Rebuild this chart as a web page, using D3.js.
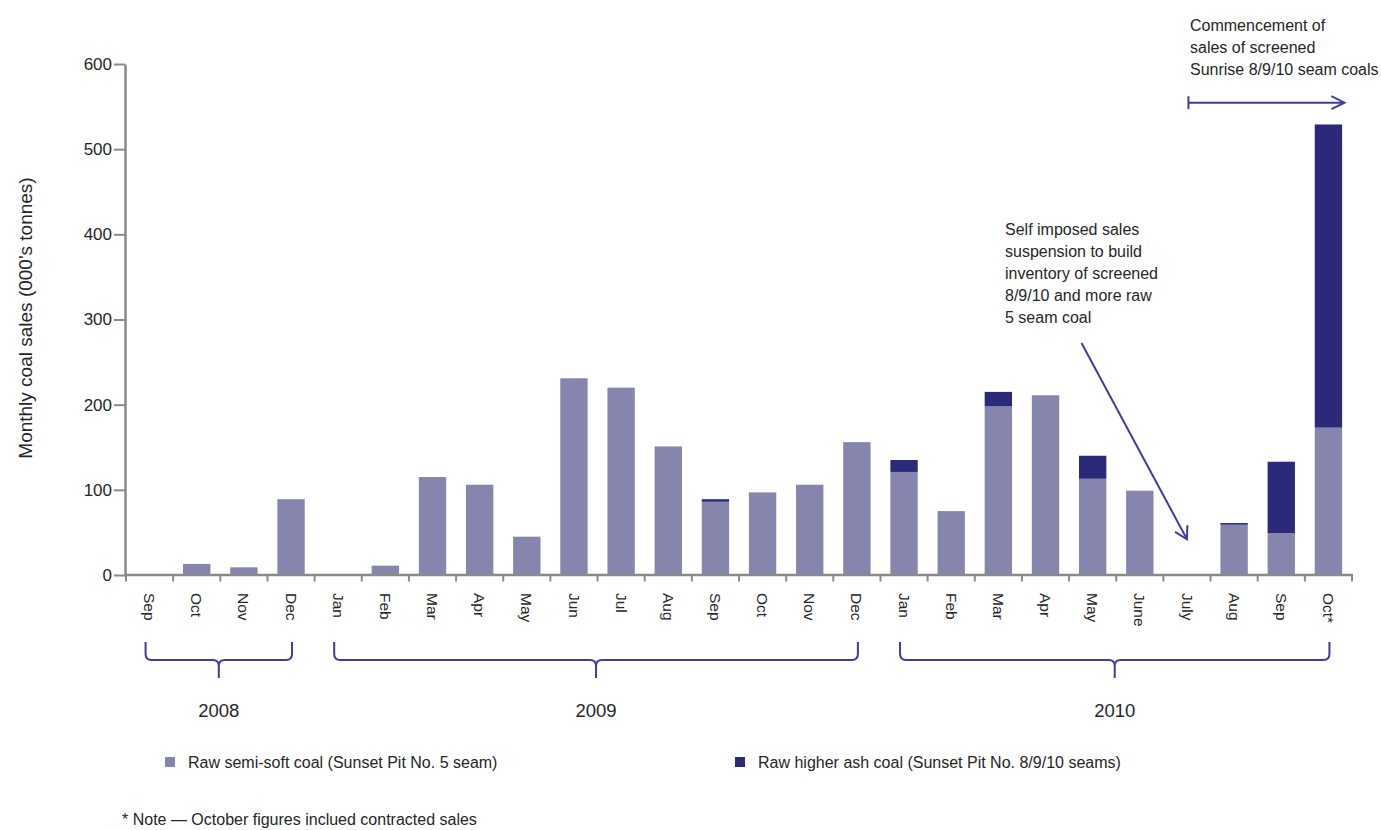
<!DOCTYPE html>
<html>
<head>
<meta charset="utf-8">
<script src="https://cdn.jsdelivr.net/npm/d3@7"></script>
<style>
  html, body { margin: 0; padding: 0; background: #ffffff; }
  svg { display: block; font-family: "Liberation Sans", Arial, Helvetica, sans-serif; }
</style>
</head>
<body>
<svg id="chart" width="1381" height="830"></svg>
<script>
// ---- data ----
const monthLabels = ["Sep","Oct","Nov","Dec","Jan","Feb","Mar","Apr","May","Jun","Jul","Aug","Sep","Oct","Nov","Dec","Jan","Feb","Mar","Apr","May","June","July","Aug","Sep","Oct*"];
const rawSemiSoft = [0,13,9,89,0,11,115,106,45,231,220,151,86,97,106,156,121,75,198,211,113,99,0,59,49,173];
const rawHigherAsh = [0,0,0,0,0,0,0,0,0,0,0,0,3,0,0,0,14,0,17,0,27,0,0,2,84,356];
const yTicks = [0,100,200,300,400,500,600];
const yearLabels = ["2008","2009","2010"];
const yearStart = [0,4,16];
const yearEnd = [3,15,25];
const seriesNames = ["Raw semi-soft coal (Sunset Pit No. 5 seam)", "Raw higher ash coal (Sunset Pit No. 8/9/10 seams)"];
const yTitle = "Monthly coal sales (000's tonnes)";
const noteText = "* Note \u2014 October figures inclued contracted sales";
const annoCommence = ["Commencement of","sales of screened","Sunrise 8/9/10 seam coals"];
const annoSuspend = ["Self imposed sales","suspension to build","inventory of screened","8/9/10 and more raw","5 seam coal"];

// ---- styles ----
const colRaw = "#8585ae", colAsh = "#2b2a7a", colAxis = "#8a8a8a", colText = "#262626", colAnno = "#3d3da2";

const svg = d3.select("#chart");
const idx = d3.range(monthLabels.length);
const x = d3.scaleBand().domain(idx).range([126, 1352]).paddingInner(0.42).paddingOuter(0.21);
const y = d3.scaleLinear().domain([0, 600]).range([575, 64]);
const cx = i => x(i) + x.bandwidth() / 2;
const gap = (x.step() - x.bandwidth()) / 2;

// stacked data
const stackData = idx.map(i => ({ i, raw: rawSemiSoft[i], ash: rawHigherAsh[i] }));
const stack = d3.stack().keys(["raw","ash"])(stackData);
const colors = { raw: colRaw, ash: colAsh };

svg.append("g").selectAll("g").data(stack).join("g")
  .attr("fill", d => colors[d.key])
  .selectAll("rect").data(d => d).join("rect")
  .attr("x", d => x(d.data.i))
  .attr("width", x.bandwidth())
  .attr("y", d => y(d[1]))
  .attr("height", d => Math.max(0, y(d[0]) - y(d[1])));

// y axis
const yAxis = svg.append("g").attr("transform", "translate(125,0)")
  .call(d3.axisLeft(y).tickValues(yTicks).tickSize(11).tickPadding(2).tickSizeOuter(0));
yAxis.select(".domain").attr("stroke", colAxis).attr("stroke-width", 2.5);
yAxis.selectAll(".tick line").attr("stroke", colAxis).attr("stroke-width", 2);
yAxis.selectAll(".tick text").attr("fill", colText).style("font-size", "17px");

// x axis baseline + boundary ticks
const xa = svg.append("g");
xa.append("line").attr("x1", 124).attr("x2", x(idx.length - 1) + x.bandwidth() + gap + 1)
  .attr("y1", y(0)).attr("y2", y(0)).attr("stroke", colAxis).attr("stroke-width", 2.5);
const bounds = idx.map(i => x(i) - gap).concat([x(idx.length - 1) + x.bandwidth() + gap]);
xa.selectAll("line.tk").data(bounds).join("line").attr("class", "tk")
  .attr("x1", d => d).attr("x2", d => d).attr("y1", y(0)).attr("y2", y(0) + 6.5)
  .attr("stroke", colAxis).attr("stroke-width", 2);
xa.selectAll("text").data(idx).join("text")
  .attr("transform", i => `translate(${cx(i)},593) rotate(90)`)
  .attr("dy", "0.35em").attr("text-anchor", "start")
  .attr("fill", colText).style("font-size", "15.5px")
  .text(i => monthLabels[i]);

// y title
svg.append("text").attr("transform", "translate(32,318) rotate(-90)")
  .attr("text-anchor", "middle").attr("fill", colText).style("font-size", "19px")
  .text(yTitle);

// year braces
const bTop = 642, bLine = 660, bBot = 678, r = 6;
yearLabels.forEach((lab, k) => {
  const x0 = cx(yearStart[k]) - 4, x1 = cx(yearEnd[k]) + 1, xm = (x0 + x1) / 2;
  const p = `M${x0},${bTop} L${x0},${bLine - r} Q${x0},${bLine} ${x0 + r},${bLine} L${xm - r},${bLine} Q${xm},${bLine} ${xm},${bLine + r} L${xm},${bBot} M${xm},${bLine + r} Q${xm},${bLine} ${xm + r},${bLine} L${x1 - r},${bLine} Q${x1},${bLine} ${x1},${bLine - r} L${x1},${bTop}`;
  svg.append("path").attr("d", p).attr("fill", "none").attr("stroke", colAnno).attr("stroke-width", 2);
  svg.append("text").attr("x", xm).attr("y", 717).attr("text-anchor", "middle")
    .attr("fill", colText).style("font-size", "18.5px").text(lab);
});

// legend
const legX = [165, 735];
seriesNames.forEach((name, k) => {
  svg.append("rect").attr("x", legX[k]).attr("y", 757).attr("width", 10).attr("height", 10)
    .attr("fill", k === 0 ? colRaw : colAsh);
  svg.append("text").attr("x", legX[k] + 23).attr("y", 768).attr("fill", colText)
    .style("font-size", "16px").text(name);
});

// note
svg.append("text").attr("x", 122).attr("y", 825).attr("fill", colText).style("font-size", "16px").text(noteText);

// annotation: commencement
const ta = svg.append("text").attr("fill", colText).style("font-size", "16px");
annoCommence.forEach((t, k) => ta.append("tspan").attr("x", 1190).attr("y", 31 + k * 22).text(t));
const ay = 102.7, ax0 = cx(22) + 1.5, ax1 = cx(25) + 16;
const g1 = svg.append("g").attr("stroke", colAnno).attr("stroke-width", 2).attr("fill", "none");
g1.append("line").attr("x1", ax0).attr("x2", ax1).attr("y1", ay).attr("y2", ay);
g1.append("line").attr("x1", ax0).attr("x2", ax0).attr("y1", ay - 6.5).attr("y2", ay + 6.5);
g1.append("path").attr("d", `M${ax1 - 13},${ay - 6.5} L${ax1},${ay} L${ax1 - 13},${ay + 6.5}`);

// annotation: suspension
const tb = svg.append("text").attr("fill", colText).style("font-size", "16px");
annoSuspend.forEach((t, k) => tb.append("tspan").attr("x", 1005).attr("y", 234.5 + k * 22).text(t));
const sx0 = 1081.5, sy0 = 343, sx1 = cx(22), sy1 = y(42);
g1.append("line").attr("x1", sx0).attr("y1", sy0).attr("x2", sx1).attr("y2", sy1);
const ang = Math.atan2(sy1 - sy0, sx1 - sx0), L = 14, w = 0.52;
const wing = a => [sx1 - L * Math.cos(ang + a), sy1 - L * Math.sin(ang + a)];
const w1 = wing(w), w2 = wing(-w);
g1.append("path").attr("d", `M${w1[0]},${w1[1]} L${sx1},${sy1} L${w2[0]},${w2[1]}`);
</script>
</body>
</html>
